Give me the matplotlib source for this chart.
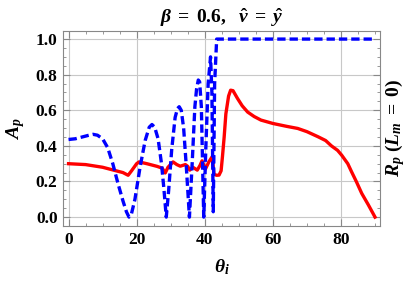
import matplotlib
matplotlib.use("Agg")
import matplotlib.pyplot as plt
from matplotlib.ticker import MultipleLocator

plt.rcParams['font.family'] = ['Liberation Serif', 'DejaVu Serif']
plt.rcParams['font.weight'] = 'bold'
plt.rcParams['mathtext.fontset'] = 'custom'
plt.rcParams['mathtext.rm'] = 'Liberation Serif:bold'
plt.rcParams['mathtext.it'] = 'Liberation Serif:italic:bold'
plt.rcParams['mathtext.bf'] = 'Liberation Serif:bold'

# red solid curve, R_p (L_m = 0)
theta_r = [0, 5, 10, 14, 16, 17.5, 18.5, 20, 20.7, 23, 26, 27.5, 28.4, 29.2,
           30.7, 31.8, 32.8, 34.3, 35, 35.6, 36.5, 37.8, 38.6, 39.2, 40.2,
           41.2, 42.2, 42.7, 43.5, 44.2, 44.8, 45.2, 45.7, 46.2, 47, 47.6,
           48.3, 49.6, 51, 52.6, 54.5, 56.5, 60, 64, 67.3, 70, 73.3, 75.5,
           77.2, 79, 80.2, 82, 83.1, 84.5, 86.1, 88, 90]
rp = [0.30, 0.295, 0.28, 0.26, 0.25, 0.235, 0.26, 0.30, 0.31, 0.30, 0.285,
      0.275, 0.248, 0.28, 0.31, 0.295, 0.286, 0.295, 0.285, 0.264, 0.28,
      0.264, 0.29, 0.316, 0.27, 0.31, 0.34, 0.24, 0.235, 0.236, 0.26, 0.34,
      0.45, 0.58, 0.68, 0.713, 0.71, 0.667, 0.625, 0.59, 0.565, 0.545, 0.526,
      0.51, 0.498, 0.48, 0.451, 0.43, 0.40, 0.375, 0.348, 0.30, 0.255, 0.20,
      0.133, 0.07, 0.0]

# blue dashed curve, A_p
theta_b = [0, 2, 4, 6, 7.2, 8.5, 10, 11.5, 13, 14.5, 16, 17, 17.75, 18.5,
           19.5, 21, 22.5, 23.7, 24.5, 25.3, 26.3, 27.3, 28, 28.7, 29.4, 30.3,
           31.3, 32, 32.5, 33.1, 33.8, 34.6, 35.5, 36.3, 37.1, 37.6, 38.1,
           38.5, 39, 39.7, 40.3, 41, 41.7, 42.1, 42.5, 42.9, 43.5, 90]
ap = [0.436, 0.44, 0.45, 0.46, 0.465, 0.46, 0.44, 0.39, 0.30, 0.19, 0.09,
      0.03, 0.0, 0.02, 0.10, 0.28, 0.43, 0.505, 0.52, 0.505, 0.44, 0.30, 0.16,
      0.0, 0.15, 0.38, 0.56, 0.61, 0.62, 0.60, 0.50, 0.28, 0.0, 0.30, 0.62,
      0.72, 0.77, 0.76, 0.62, 0.0, 0.38, 0.75, 0.90, 0.70, 0.03, 0.75, 1.0, 1.0]

fig = plt.figure(figsize=(4.15, 2.85), dpi=100)
ax = fig.add_axes([0.152, 0.207, 0.764, 0.684])

ax.plot(theta_r, rp, c='red', lw=2.4, zorder=3)
ax.plot(theta_b, ap, c='blue', lw=2.4, dashes=(2.5, 1.2), zorder=3)

ax.set_xlim(-1.6, 91.5)
ax.set_ylim(-0.05, 1.045)
ax.xaxis.set_major_locator(MultipleLocator(20))
ax.xaxis.set_minor_locator(MultipleLocator(5))
ax.yaxis.set_major_locator(MultipleLocator(0.2))
ax.yaxis.set_minor_locator(MultipleLocator(0.05))
ax.set_yticks([0, 0.2, 0.4, 0.6, 0.8, 1.0])
ax.set_yticklabels(['0.0', '0.2', '0.4', '0.6', '0.8', '1.0'])
ax.grid(True, which='major', color='#c8c8c8', lw=0.8)
ax.set_axisbelow(True)

ax.tick_params(which='both', direction='in', top=True, right=True,
               color='#888888', labelsize=12.5, pad=4)
ax.tick_params(which='major', length=5)
ax.tick_params(which='minor', length=2.5)
for s in ax.spines.values():
    s.set_color('#888888')
    s.set_linewidth(0.8)
for lab in ax.get_xticklabels() + ax.get_yticklabels():
    lab.set_fontweight('bold')

ax.set_title(r'$\beta\;=\;0.6,\ \ \hat{v}\;=\;\hat{y}$', fontsize=14, pad=6)
ax.set_xlabel(r'$\theta_i$', fontsize=14, labelpad=7)
ax.set_ylabel(r'$A_p$', fontsize=14)
ax.yaxis.set_label_coords(-0.115, 0.5)

fig.text(0.952, 0.55, r'$R_p\ (L_m\;=\;0)$', rotation=90, fontsize=14,
         ha='center', va='center')

fig.savefig('out.png', dpi=100)
